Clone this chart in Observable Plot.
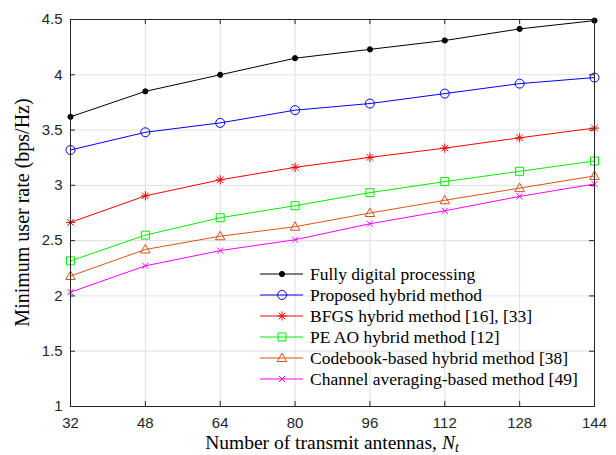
<!DOCTYPE html>
<html><head><meta charset="utf-8">
<script src="https://cdn.jsdelivr.net/npm/d3@7"></script>
<script src="https://cdn.jsdelivr.net/npm/@observablehq/plot@0.6"></script>
<style>body{margin:0;background:#fff}</style>
</head><body><div id="chart"></div>
<script>
// ---- data ----
const antennas = [32, 48, 64, 80, 96, 112, 128, 144];
const fullyDigital = [3.62, 3.85, 4.00, 4.15, 4.23, 4.31, 4.415, 4.49];
const proposed     = [3.32, 3.48, 3.565, 3.68, 3.74, 3.83, 3.92, 3.975];
const bfgs         = [2.665, 2.905, 3.05, 3.163, 3.253, 3.337, 3.43, 3.518];
const peao         = [2.317, 2.55, 2.707, 2.816, 2.934, 3.034, 3.127, 3.22];
const codebook     = [2.18, 2.42, 2.54, 2.626, 2.75, 2.865, 2.975, 3.085];
const channelAvg   = [2.034, 2.272, 2.41, 2.508, 2.653, 2.77, 2.90, 3.012];
const seriesNames = [
  "Fully digital processing",
  "Proposed hybrid method",
  "BFGS hybrid method [16], [33]",
  "PE AO hybrid method [12]",
  "Codebook-based hybrid method [38]",
  "Channel averaging-based method [49]"
];
const seriesValues = [fullyDigital, proposed, bfgs, peao, codebook, channelAvg];
const seriesColors = ["#000000", "#0000ff", "#ff0000", "#00ee00", "#d95319", "#ff00ff"];
const xTicks = [32, 48, 64, 80, 96, 112, 128, 144];
const xTickLabels = ["32", "48", "64", "80", "96", "112", "128", "144"];
const yTicks = [1, 1.5, 2, 2.5, 3, 3.5, 4, 4.5];
const yTickLabels = ["1", "1.5", "2", "2.5", "3", "3.5", "4", "4.5"];
const xLabel = "Number of transmit antennas, ";
const xLabelVar = "N";
const xLabelSub = "t";
const yLabel = "Minimum user rate (bps/Hz)";

// ---- symbols ----
const symAsterisk = {draw(ctx, size) {
  const r = Math.sqrt(size / Math.PI), a = r * 0.7071;
  ctx.moveTo(-r, 0); ctx.lineTo(r, 0); ctx.moveTo(0, -r); ctx.lineTo(0, r);
  ctx.moveTo(-a, -a); ctx.lineTo(a, a); ctx.moveTo(-a, a); ctx.lineTo(a, -a);
}};
const symSquare = {draw(ctx, size) {
  const r = Math.sqrt(size / Math.PI);
  ctx.moveTo(-r, -r); ctx.lineTo(r, -r); ctx.lineTo(r, r); ctx.lineTo(-r, r); ctx.closePath();
}};
const symTriangle = {draw(ctx, size) {
  const r = Math.sqrt(size / Math.PI);
  ctx.moveTo(0, -r); ctx.lineTo(r * 0.95, r * 0.7); ctx.lineTo(-r * 0.95, r * 0.7); ctx.closePath();
}};
const symTimes = {draw(ctx, size) {
  const r = Math.sqrt(size / Math.PI), a = r * 0.75;
  ctx.moveTo(-a, -a); ctx.lineTo(a, a); ctx.moveTo(-a, a); ctx.lineTo(a, -a);
}};
const markers = [
  {symbol: d3.symbolCircle, r: 2.6, filled: true},
  {symbol: d3.symbolCircle, r: 4.5, filled: false},
  {symbol: symAsterisk, r: 4.6, filled: false},
  {symbol: symSquare, r: 4, filled: false},
  {symbol: symTriangle, r: 5, filled: false},
  {symbol: symTimes, r: 4, filled: false}
];

const rows = [];
seriesValues.forEach((vals, s) => vals.forEach((v, i) => rows.push({s, x: antennas[i], y: v})));

// ---- layout ----
const W = 616, H = 455, mL = 70, mR = 22, mT = 19, mB = 49;
const innerW = W - mL - mR, innerH = H - mT - mB;
const axisColor = "#262626";

const marks = [
  Plot.gridX(xTicks, {stroke: "#e0e0e0", strokeOpacity: 1}),
  Plot.gridY(yTicks, {stroke: "#e0e0e0", strokeOpacity: 1}),
  Plot.tickX(xTicks, {x: d => d, insetTop: innerH - 5, stroke: axisColor}),
  Plot.tickX(xTicks, {x: d => d, insetBottom: innerH - 5, stroke: axisColor}),
  Plot.tickY(yTicks, {y: d => d, insetRight: innerW - 5, stroke: axisColor}),
  Plot.tickY(yTicks, {y: d => d, insetLeft: innerW - 5, stroke: axisColor}),
  Plot.axisX(xTicks, {tickSize: 0, tickPadding: 11, tickFormat: d => xTickLabels[xTicks.indexOf(d)], fill: axisColor, fontSize: 15, label: null}),
  Plot.axisY(yTicks, {tickSize: 0, tickPadding: 8, tickFormat: d => yTickLabels[yTicks.indexOf(d)], fill: axisColor, fontSize: 15, label: null})
];
seriesValues.forEach((vals, s) => {
  const data = rows.filter(d => d.s === s);
  marks.push(Plot.line(data, {x: "x", y: "y", stroke: seriesColors[s], strokeWidth: 1}));
});
seriesValues.forEach((vals, s) => {
  const data = rows.filter(d => d.s === s);
  const m = markers[s];
  marks.push(Plot.dot(data, {x: "x", y: "y", symbol: m.symbol, r: m.r,
    fill: m.filled ? seriesColors[s] : "none", stroke: seriesColors[s], strokeWidth: 1}));
});
marks.push(Plot.frame({stroke: axisColor}));

const plot = Plot.plot({
  width: W, height: H, marginLeft: mL, marginRight: mR, marginTop: mT, marginBottom: mB,
  style: {fontFamily: "'Liberation Sans', Arial, sans-serif", fontSize: "15px", background: "#fff", overflow: "visible"},
  x: {domain: [32, 144], label: null},
  y: {domain: [1, 4.5], label: null},
  marks
});
document.getElementById("chart").appendChild(plot);

// ---- axis titles & legend ----
const svg = d3.select(plot);
const serif = "'Liberation Serif', 'Times New Roman', serif";
const xt = svg.append("text")
  .attr("x", mL + innerW / 2).attr("y", 449)
  .attr("text-anchor", "middle").attr("font-family", serif).attr("font-size", 19.5).attr("fill", "#000");
xt.append("tspan").text(xLabel);
xt.append("tspan").attr("font-style", "italic").text(xLabelVar);
xt.append("tspan").attr("font-style", "italic").attr("font-size", 14).attr("dy", 3).text(xLabelSub);

svg.append("text")
  .attr("transform", `translate(29,${mT + innerH / 2}) rotate(-90)`)
  .attr("text-anchor", "middle").attr("font-family", serif).attr("font-size", 20).attr("fill", "#000")
  .text(yLabel);

const lg = svg.append("g").attr("text-anchor", "start");
const legY0 = 274, legStep = 21;
seriesNames.forEach((name, s) => {
  const y = legY0 + s * legStep;
  lg.append("line").attr("x1", 260).attr("x2", 303).attr("y1", y).attr("y2", y)
    .attr("stroke", seriesColors[s]).attr("stroke-width", 1);
  const m = markers[s];
  lg.append("path").attr("transform", `translate(282,${y})`)
    .attr("d", d3.symbol(m.symbol, Math.PI * m.r * m.r)())
    .attr("fill", m.filled ? seriesColors[s] : "none").attr("stroke", seriesColors[s]).attr("stroke-width", 1);
  lg.append("text").attr("x", 310).attr("y", y).attr("dy", "0.33em").attr("text-anchor", "start")
    .attr("font-family", serif).attr("font-size", 17.5).attr("fill", "#000").text(name);
});
</script>
</body></html>
